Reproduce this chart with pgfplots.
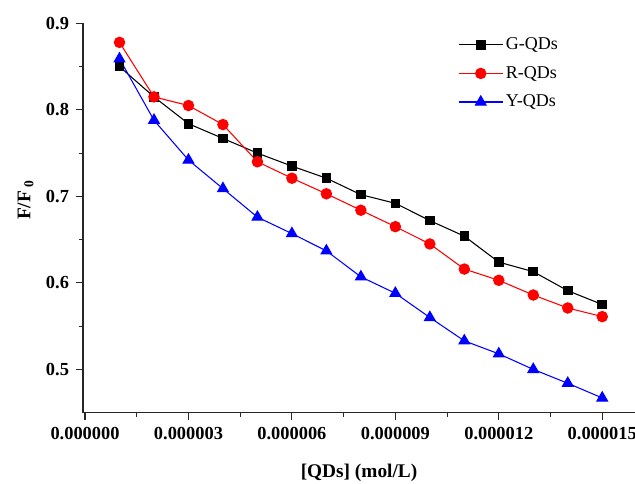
\documentclass[border=0pt]{standalone}
\usepackage{pgfplots}
\pgfplotsset{compat=1.18}
\usepackage{fontspec}
\setmainfont{Liberation Serif}

\begin{document}
\begin{tikzpicture}
\begin{axis}[
  scale only axis,
  width=414pt, height=292pt,
  axis x line=bottom, axis y line=left,
  axis line style={-, line width=1pt, black!85},
  xmin=-0.000000058, xmax=0.00001595,
  ymin=0.45, ymax=0.9,
  xtick={0,0.000003,0.000006,0.000009,0.000012,0.000015},
  xticklabels={0.000000,0.000003,0.000006,0.000009,0.000012,0.000015},
  scaled x ticks=false,
  ytick={0.5,0.6,0.7,0.8,0.9},
  yticklabels={0.5,0.6,0.7,0.8,0.9},
  minor tick num=1,
  tick align=outside,
  tick style={line width=0.8pt, black!85},
  major tick length=5.5pt, minor tick length=3pt,
  ticklabel style={font=\fontsize{13.8}{14}\selectfont\bfseries},
  xticklabel style={yshift=-2pt},
  yticklabel style={xshift=-1.5pt},
  /pgf/number format/assume math mode=true,
  xlabel={\textbf{[QDs] (mol/L)}},
  ylabel={\textbf{F/F\,\textsubscript{0}}},
  label style={font=\fontsize{14.5}{15}\selectfont},
  xlabel style={yshift=-11pt},
  ylabel style={at={(ticklabel cs:0.546)}, yshift=2.5pt},
  legend style={draw=none, fill=none, at={(rel axis cs:0.672,0.977)}, anchor=north west,
    font=\fontsize{13.5}{14}\selectfont, row sep=7pt},
  legend cell align=left,
  legend image code/.code={
    \draw[mark repeat=2,mark phase=2] plot coordinates {(0pt,0pt) (16.5pt,0pt) (33pt,0pt)};
  },
]
\addplot[black, line width=0.8pt, mark=square*, mark size=3.2pt, mark options={solid}]
coordinates {
(0.000001,0.850)(0.000002,0.815)(0.000003,0.784)(0.000004,0.767)(0.000005,0.750)
(0.000006,0.735)(0.000007,0.721)(0.000008,0.702)(0.000009,0.692)(0.000010,0.672)
(0.000011,0.654)(0.000012,0.624)(0.000013,0.613)(0.000014,0.591)(0.000015,0.575)};
\addlegendentry{G-QDs}
\addplot[red, line width=0.8pt, mark=*, mark size=3.9pt, mark options={solid, fill=red}]
coordinates {
(0.000001,0.878)(0.000002,0.815)(0.000003,0.805)(0.000004,0.783)(0.000005,0.740)
(0.000006,0.721)(0.000007,0.703)(0.000008,0.684)(0.000009,0.665)(0.000010,0.645)
(0.000011,0.616)(0.000012,0.603)(0.000013,0.586)(0.000014,0.571)(0.000015,0.561)};
\addlegendentry{R-QDs}
\addplot[blue, line width=0.8pt, mark=triangle*, mark size=4.6pt, mark options={solid, fill=blue}]
coordinates {
(0.000001,0.859)(0.000002,0.788)(0.000003,0.742)(0.000004,0.709)(0.000005,0.676)
(0.000006,0.657)(0.000007,0.637)(0.000008,0.607)(0.000009,0.588)(0.000010,0.560)
(0.000011,0.533)(0.000012,0.518)(0.000013,0.500)(0.000014,0.484)(0.000015,0.467)};
\addlegendentry{Y-QDs}
\coordinate (bl) at (rel axis cs:-0.1504,-0.181);
\coordinate (tr) at (rel axis cs:1.0,1.06);
\end{axis}
\pgfresetboundingbox
\useasboundingbox (bl) rectangle (tr);
\end{tikzpicture}
\end{document}
